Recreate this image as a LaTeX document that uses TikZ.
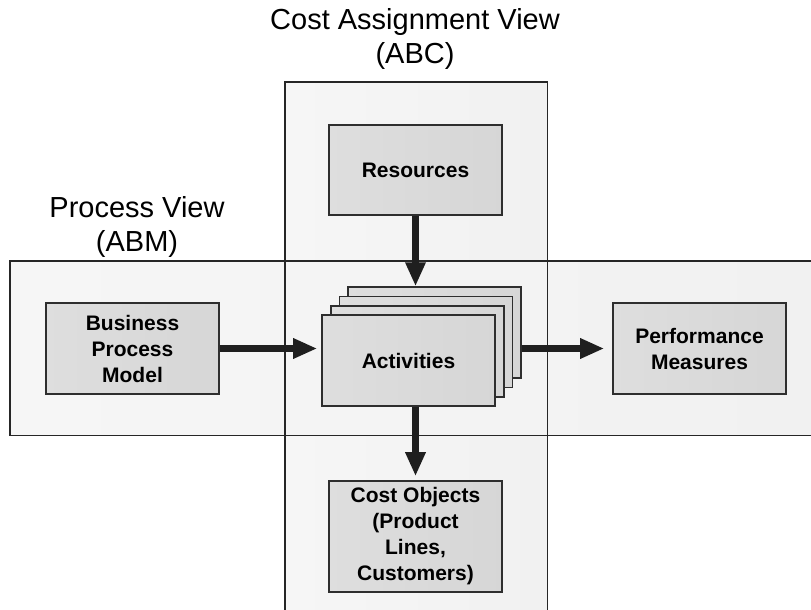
\documentclass[tikz,border=0pt]{standalone}
\usepackage{fontspec}
\setmainfont{Liberation Sans}
\usetikzlibrary{arrows.meta}

\tikzset{
  viewband/.style={inner sep=0pt, left color=gray!7, middle color=gray!17, right color=gray!11},
  bandline/.style={draw=black!85, line width=1.4pt},
  viewtitle/.style={align=center, font=\fontsize{29}{34}\selectfont},
  procbox/.style={draw=black!82, line width=1.6pt, minimum width=173pt, minimum height=91pt,
    inner sep=0pt, align=center, left color=gray!26, middle color=gray!18, right color=gray!32,
    font=\bfseries\fontsize{21}{26}\selectfont},
  flowarrow/.style={draw=black!88, line width=6.5pt, -{Triangle[length=24pt 0,width=19pt 0]}, shorten >=4pt}
}

\begin{document}
\begin{tikzpicture}[x=1pt,y=-1pt]
\useasboundingbox (0,0) rectangle (811,610);
\clip (0,0) rectangle (811,610);
\fill[white] (0,0) rectangle (811,610);

\node[viewband, minimum width=262pt, minimum height=540pt] (CostView) at (416,352) {};
\node[viewband, minimum width=810pt, minimum height=174pt] (ProcessView) at (415,348) {};
\draw[bandline] (CostView.north west) rectangle (CostView.south east);
\draw[bandline] (ProcessView.north west) rectangle (ProcessView.south east);

\node[viewtitle] (CostTitle) at (415,39) {Cost Assignment View\\(ABC)};
\node[viewtitle] (ProcessTitle) at (137,227) {Process View\\(ABM)};

\node[procbox, minimum height=90pt] (Resources) at (415.5,170) {Resources};
\node[procbox] (BusinessProcess) at (132.5,348.5) {Business\\Process\\Model};
\node[procbox] (Performance) at (699.5,348.5) {Performance\\Measures};
\node[procbox, minimum height=111pt] (CostObjects) at (415.5,536.5) {Cost Objects\\(Product\\Lines,\\Customers)};

\node[procbox] (Activities4) at (434.6,332.6) {};
\node[procbox] (Activities3) at (425.9,341.9) {};
\node[procbox] (Activities2) at (417.2,351.2) {};
\node[procbox] (Activities) at (408.5,360.5) {Activities};

\draw[flowarrow, shorten >=0pt] (Resources.south) -- (Resources.south |- Activities4.north);
\draw[flowarrow] (BusinessProcess.east) -- (BusinessProcess.east -| Activities.west);
\draw[flowarrow, shorten >=8pt] (Activities4.east |- Performance.west) -- (Performance.west);
\draw[flowarrow] (Activities.south -| CostObjects.north) -- (CostObjects.north);
\end{tikzpicture}
\end{document}
